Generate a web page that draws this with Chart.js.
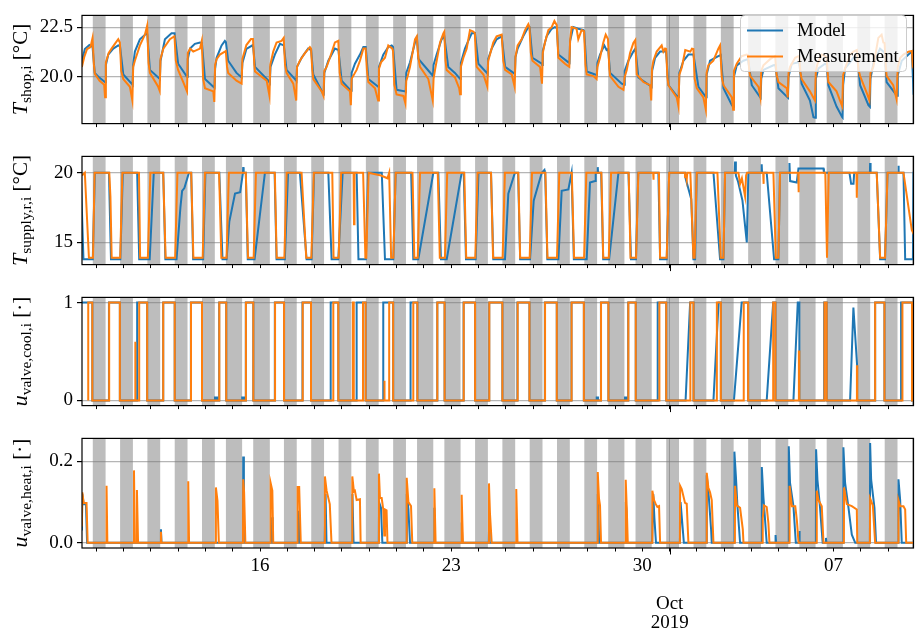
<!DOCTYPE html>
<html>
<head>
<meta charset="utf-8">
<script src="https://cdn.jsdelivr.net/npm/chart.js@4.4.1/dist/chart.umd.min.js"></script>
<style>
  body { margin: 0; background: #fff; }
  #wrap { position: relative; width: 915px; height: 632px; }
  canvas { position: absolute; left: 0; }
</style>
</head>
<body>
<div id="wrap">
  <canvas id="c1" width="915" height="139" style="top:0px"></canvas>
  <canvas id="c2" width="915" height="139" style="top:141px"></canvas>
  <canvas id="c3" width="915" height="139" style="top:282px"></canvas>
  <canvas id="c4" width="915" height="209" style="top:423px"></canvas>
</div>
<script>
// x values are "day of September + hour/24" (Oct 1 = 31)
const xMin = 9.48, xMax = 39.93;
const dayTicks = [10,11,12,13,14,15,16,17,18,19,20,21,22,23,24,25,26,27,28,29,30,31,32,33,34,35,36,37,38,39];
const labelDays = [16, 23, 30, 37];
const labelText = ['16', '23', '30', '07'];
const monthTick = 31;
const monthText = ['Oct', '2019'];

// shop closed periods: from closeHour on that day until openHour next morning
const bandDays  = [9,10,11,12,13,14,15,16,17,18,19,20,21,22,23,24,25,26,27,28,29,30,31,32,33,34,35,36,37,38,39];
const closeHour = [21,21,21,21,21,18,18,21,21,21,21,21,18,18,21,21,21,21,21,18,18,21,21,21,21,21,18,18,21,21,21];
const openHour  = [8.25,8.25,8.25,8.25,8.25,8.25,8.6,8.25,8.25,8.25,8.25,8.25,8.25,8.25,8.25,8.25,8.25,8.25,8.25,8.25,8.25,8.25,8.25,8.25,8.25,8.25,8.25,8.25,8.25,8.25,8.25];

// [day, hour, value]
const shopMeas = [
 [9,11.4,20.5],[9,13.5,21.0],[9,16,21.4],[9,19,21.5],[9,20.8,21.96],[9,22,20.6],[9,22.8,20.15],
 [10,3,19.8],[10,7,19.6],[10,7.8,18.97],[10,8.5,20.73],[10,11,21.2],[10,13.5,21.42],[10,16.4,21.66],[10,19.4,21.89],[10,20.8,21.73],[10,22,20.3],[10,23.8,19.89],
 [11,5.6,19.5],[11,7.8,18.81],[11,8.5,20.5],[11,10,20.81],[11,14.4,21.58],[11,18.8,22.12],[11,20.8,22.58],[11,22,20.7],[11,23.2,20.2],
 [12,6.5,19.5],[12,7.8,19.3],[12,8.5,20.9],[12,11,21.42],[12,16.8,21.89],[12,20.8,22.04],[12,22,20.8],
 [13,0,20.35],[13,4.5,19.74],[13,7.8,19.27],[13,8.5,21.2],[13,10.5,21.42],[13,13.3,21.27],[13,19.2,21.42],[13,20.8,21.81],[13,22,19.9],[13,23.6,19.43],
 [14,6.9,19.27],[14,7.8,18.74],[14,8.5,20.6],[14,9.8,20.89],[14,12.7,21.12],[14,17.1,21.27],[14,17.9,21.3],[14,19,20.5],[14,20,20.2],
 [15,3.3,19.81],[15,7.8,19.66],[15,8.5,20.9],[15,12,21.6],[15,16,21.9],[15,17.8,21.9],[15,19,20.6],[15,19.6,20.27],
 [16,5.8,19.81],[16,8.3,19.04],[16,9,20.6],[16,11.6,21.27],[16,14.5,21.73],[16,18.9,21.81],[16,20.8,21.96],[16,22,20.6],[16,23.3,20.2],
 [17,5.2,19.66],[17,7.8,18.81],[17,8.5,20.5],[17,11,20.81],[17,15.4,21.19],[17,19.8,21.5],[17,20.8,21.42],[17,22,20.3],[17,22.8,19.89],
 [18,6.2,19.27],[18,7.8,19.04],[18,8.5,20.3],[18,10.5,20.5],[18,13.4,20.96],[18,17.8,21.73],[18,20.8,21.81],[18,22,20.2],[18,23.7,19.66],
 [19,7,19.27],[19,7.8,18.58],[19,8.5,19.9],[19,11.4,20.2],[19,12.9,20.35],[19,15.8,20.81],[19,18.8,21.42],[19,20.8,21.42],[19,22,20.3],[19,23.2,19.74],
 [20,5,19.43],[20,7.8,18.81],[20,8.5,20.4],[20,10.3,20.73],[20,13.8,20.96],[20,16.7,21.58],[20,20.3,21.42],[20,20.9,21.3],[20,22,19.6],
 [21,0,19.12],[21,6,19.04],[21,7.8,18.66],[21,8.5,19.8],[21,9.8,20.04],[21,11.8,20.5],[21,16.2,21.89],[21,17.8,22.04],[21,19,21.0],[21,20.6,20.5],
 [22,3.9,19.89],[22,7.8,18.81],[22,8.5,19.9],[22,9.8,20.35],[22,14.2,21.73],[22,17.1,22.19],[22,17.9,22.27],[22,19,20.8],[22,20,20.35],
 [23,3.3,19.97],[23,7,19.43],[23,7.8,19.12],[23,8.5,20.5],[23,10.7,20.96],[23,13.6,21.42],[23,16.5,22.35],[23,19.4,22.27],[23,20.8,22.2],[23,21.8,20.9],[23,22.4,20.5],
 [24,4.3,20.12],[24,7.8,19.5],[24,8.5,20.8],[24,10.1,21.12],[24,13,21.73],[24,15.9,22.04],[24,20.4,22.12],[24,21.8,20.8],[24,23.4,20.35],
 [25,5.2,20.12],[25,7.8,19.5],[25,8.5,21.0],[25,10.4,21.58],[25,13.9,21.89],[25,16.9,22.35],[25,19.8,22.65],[25,20.8,22.5],[25,22,21.2],[25,23.4,20.81],
 [26,6.1,20.5],[26,7.8,19.66],[26,8.5,21.2],[26,10.4,21.73],[26,13.4,22.35],[26,16.3,22.5],[26,18.7,22.81],[26,20.8,22.6],[26,21.8,21.4],[26,22.2,20.96],
 [27,4,20.66],[27,7.8,20.5],[27,8.5,21.8],[27,9.8,22.5],[27,14.2,22.42],[27,15.7,21.89],[27,18.6,22.35],[27,20.8,22.3],[27,22,20.6],[27,23.1,20.12],
 [28,5,20.04],[28,7.8,19.89],[28,8.5,20.5],[28,10.8,20.96],[28,13.7,21.73],[28,15.8,22.12],[28,17.8,21.9],[28,19,20.4],[28,19.7,20.04],
 [29,3,19.5],[29,7.4,19.35],[29,8.5,20.0],[29,10.3,20.35],[29,13.2,21.2],[29,16.1,21.7],[29,17.8,21.85],[29,19.1,20.12],
 [30,0.9,19.74],[30,6.8,19.58],[30,7.8,18.81],[30,8.5,20.4],[30,9.7,20.81],[30,12.6,21.27],[30,17,21.58],[30,18.5,21.27],[30,20,21.42],[30,20.9,21.4],[30,22,20.0],[30,22.9,19.58],
 [31,6.2,18.97],[31,7.8,18.51],[31,8.5,20.1],[31,10.8,20.5],[31,13.7,21.35],[31,18.2,21.27],[31,19.6,21.42],[31,20.9,21.4],[31,22,19.9],[31,23.8,19.43],
 [32,5.6,18.97],[32,7.8,18.35],[32,8.5,20.2],[32,10,20.58],[32,14.4,20.81],[32,18.8,21.42],[32,20.3,21.58],[32,21.8,20.0],[32,23.3,19.58],
 [33,6.7,18.97],[33,7.8,18.35],[33,8.5,20.3],[33,11,20.66],[33,15.3,21.04],[33,19.7,21.12],[33,20.9,21.1],[33,22,20.3],[33,22.8,20.04],
 [34,6.1,19.5],[34,7.8,18.97],[34,8.5,20.3],[34,10.4,20.58],[34,16.3,20.89],[34,20.7,21.04],[34,22,20.1],[34,23.6,19.74],
 [35,7,19.43],[35,7.8,18.97],[35,8.5,20.2],[35,9.8,20.5],[35,14.3,20.96],[35,17.2,21.04],[35,17.9,21.0],[35,19,20.2],[35,20,19.89],
 [36,3.3,19.27],[36,7.7,18.81],[36,8.5,20.3],[36,9.9,20.66],[36,13.7,21.12],[36,16.6,21.04],[36,17.9,21.0],[36,19,20.1],[36,19.5,19.74],
 [37,2.7,19.27],[37,7.7,18.51],[37,8.5,20.1],[37,10.2,20.43],[37,14.7,21.12],[37,17.6,21.27],[37,20.5,21.35],[37,21.8,20.4],[37,23.4,20.04],
 [38,5.2,19.2],[38,7.6,18.81],[38,8.5,20.2],[38,11,20.5],[38,15.4,21.96],[38,18.3,22.12],[38,19.8,21.73],[38,20.9,21.7],[38,22,20.5],[38,22.7,20.04],
 [39,4.5,19.58],[39,7.4,18.89],[39,8.5,20.5],[39,10.6,20.96],[39,13.5,21.12],[39,17.9,21.27],[39,20.9,21.3],[39,21.6,20.6],[39,23,20.8]
];

const shopModel = [
 [9,11.4,20.75],[9,14,21.4],[9,18,21.6],[9,20.8,21.5],[9,22.7,20.2],[10,3,19.95],[10,7.9,19.73],
 [10,8.5,20.6],[10,10.6,21.12],[10,15,21.42],[10,19.4,21.58],[10,20.9,21.55],[10,23.8,20.12],[11,7.1,19.66],[11,8,19.6],
 [11,8.5,20.6],[11,10,21.27],[11,14.4,21.89],[11,20.3,22.19],[11,20.9,22.15],[11,23.2,20.35],[12,8,19.89],
 [12,8.5,20.8],[12,12.4,21.89],[12,18.2,22.19],[12,20.9,22.19],[13,0,20.66],[13,7.4,20.04],[13,8,20.0],
 [13,8.5,20.9],[13,10.5,21.42],[13,14.7,21.66],[13,19.2,21.73],[13,20.9,21.7],[13,23.6,19.89],[14,6.9,19.5],[14,8,19.45],
 [14,8.5,20.4],[14,9.8,20.96],[14,14.2,21.58],[14,17.1,21.81],[14,18,21.75],[14,20,20.81],[15,3.3,20.2],[15,7.8,19.97],
 [15,8.5,20.7],[15,12,21.4],[15,17.8,21.6],[15,19.6,20.5],[16,7.3,19.81],[16,8.6,19.7],
 [16,9.2,20.5],[16,13,21.12],[16,17.5,21.66],[16,20.9,21.58],[16,23.3,20.35],[17,6.7,19.89],[17,8,19.8],
 [17,8.5,20.5],[17,12.5,20.96],[17,18.3,21.42],[17,20.9,21.35],[17,22.8,20.12],[18,7,19.2],[18,8,19.15],
 [18,8.5,20.2],[18,12,20.81],[18,17.8,21.42],[18,20.9,21.35],[18,23.7,19.81],[19,7,19.35],[19,8,19.3],
 [19,8.5,20.2],[19,11.4,20.66],[19,15.8,21.12],[19,18.8,21.5],[19,20.9,21.5],[19,23.2,19.89],[20,7.9,19.5],
 [20,8.5,20.5],[20,12.3,21.12],[20,16.7,21.5],[20,19.7,21.58],[20,20.9,21.5],[21,0,19.35],[21,7.4,19.27],[21,8,19.25],
 [21,8.5,20.2],[21,11.8,20.73],[21,16.2,21.73],[21,17.9,21.96],[21,19.2,20.9],[22,6.9,20.12],[22,8,20.05],
 [22,8.5,20.6],[22,11.2,21.12],[22,15.6,21.89],[22,17.9,22.04],[22,21.4,20.5],[23,3.3,20.2],[23,8,19.89],
 [23,8.5,20.7],[23,12.1,21.42],[23,15,21.81],[23,18,22.19],[23,20.9,22.2],[23,23.9,20.66],[24,7.3,20.2],[24,8,20.15],
 [24,8.5,20.9],[24,11.6,21.42],[24,15.9,21.89],[24,20.4,22.04],[24,23.4,20.5],[25,6.7,20.2],[25,8,20.15],
 [25,8.5,21.0],[25,10.4,21.42],[25,15.3,22.04],[25,19.8,22.5],[25,20.9,22.5],[25,23.4,20.96],[26,7.6,20.66],[26,8,20.6],
 [26,8.5,21.3],[26,11.9,22.04],[26,16.3,22.42],[26,19.2,22.5],[26,20.9,22.45],[26,22.2,21.12],[27,7,20.73],[27,8,20.7],
 [27,8.5,21.8],[27,11.3,22.5],[27,15.7,22.42],[27,20.3,22.35],[27,20.9,22.3],[27,23.1,20.27],[28,6.5,20.12],[28,8,20.1],
 [28,8.5,20.7],[28,10.8,21.12],[28,14.6,21.58],[28,16.6,21.35],[28,17.9,21.4],[28,19.7,20.2],[29,5.9,19.66],[29,8,19.6],
 [29,8.5,20.3],[29,11.7,20.81],[29,16.1,21.27],[29,17.9,21.42],[29,20.5,19.97],[30,8.2,19.5],
 [30,8.6,20.3],[30,11.2,20.96],[30,15.6,21.27],[30,20.9,21.27],[30,22.9,19.58],[31,6.2,19.04],[31,8,19.0],
 [31,8.5,20.2],[31,12.1,20.81],[31,16.5,21.12],[31,20.9,21.12],[32,1.3,19.5],[32,8,18.97],
 [32,8.5,20.1],[32,11.5,20.81],[32,18.8,21.04],[32,20.9,21.1],[32,23.3,19.43],[33,6.7,18.58],[33,8,18.5],
 [33,8.5,20.0],[33,11,20.58],[33,16.8,20.81],[33,20.9,20.89],[34,0.2,19.58],[34,7.6,18.97],[34,8,18.95],
 [34,8.5,19.9],[34,10.4,20.35],[34,19.2,20.58],[34,20.9,20.6],[34,23.6,19.43],[35,7.6,18.97],[35,8,18.95],
 [35,8.5,20.0],[35,11.3,20.66],[35,17.2,20.73],[35,17.9,20.7],[35,20,19.66],[36,3.3,18.81],[36,6.4,17.97],[36,8,17.95],
 [36,8.5,19.9],[36,10.8,20.43],[36,16.6,20.66],[36,17.9,20.65],[36,19.5,19.58],[37,2.7,18.51],[37,7.7,17.97],[37,8,17.95],
 [37,8.5,19.6],[37,10.2,20.43],[37,17.6,20.96],[37,20.9,21.0],[37,23.4,19.58],[38,6.7,18.58],[38,8,18.5],
 [38,8.5,19.9],[38,11,20.66],[38,16.9,21.42],[38,19.8,21.27],[38,20.9,21.25],[38,22.7,19.74],[39,6.8,19.12],[39,8,19.05],
 [39,8.5,20.1],[39,12,20.81],[39,17.9,21.12],[39,20.9,21.27],[39,22.4,19.1],[39,23,19.0]
];

// supply temperature: [day, dropStart, lowReached, riseStart, highReached] (hours, may pass 24)
const supplyHigh = 20.0, supplyLowMeas = 13.9, supplyLowModel = 13.8;
const supplyMeasSteps = [
 [9,14.0,17.6,21.2,22.6],[10,11.5,13.6,21.1,23.0],[11,13.6,14.6,21.4,23.6],[12,10.9,13.0,21.4,23.4],[13,11.5,13.4,21.6,23.6],
 [14,12.0,14.0,18.6,20.6],[15,11.5,13.4,18.4,20.4],[16,13.0,14.6,21.4,23.4],[17,12.5,16.6,21.1,23.3],[18,15.5,16.6,21.1,23.3],
 [19,18.6,20.6,21.4,23.4],[20,17.5,19.2,21.2,23.2],[21,14.0,15.6,18.6,20.6],[22,12.2,14.0,18.5,20.5],[23,11.5,13.2,21.2,23.2],
 [24,11.0,12.8,21.2,23.2],[25,11.0,12.6,21.0,23.0],[26,10.8,12.6,21.0,23.0],[27,10.0,12.0,20.8,22.8],[28,12.0,13.6,18.5,20.5],
 [29,12.0,13.6,18.5,20.5],[30,14.6,15.6,21.4,23.6],[31,18.2,20.9,22.0,23.8],[32,18.0,20.9,23.3,24.7],[34,19.2,21.3,23.6,25.0],
 [36,16.8,18.3,18.5,19.8],[38,14.0,17.0,21.3,23.5]
];
const supplyMeasExtra = [
 [9,11.4,19.8],[10,12.5,18.3],[19,10.2,20],[19,10.6,16.3],[19,11.0,20],[20,10.3,19.8],[20,16.0,19.6],
 [30,9.5,20],[30,9.7,19.5],[30,10.0,20],[31,13.4,20],[31,13.6,19.7],[31,14.2,19.9],[31,15.0,19.5],[31,15.5,20],
 [33,12.5,20],[33,13.9,19.2],[33,15.5,19.6],[33,18.3,18.3],[33,19.2,19.8],[33,20.0,20],
 [34,10.2,20],[34,10.4,19.2],[34,10.8,20],[35,17.0,20],[35,17.2,18.6],[35,17.6,20],
 [37,20.2,20],[37,20.5,18.2],[37,20.9,20],[39,13.5,20],[39,20.8,15.9],[39,23.0,15.5]
];
const supplyModelSteps = [
 [9,10.4,12.8,21.0,22.8],[10,11.2,13.0,21.2,23.4],[11,12.0,13.8,23.0,26.6],[12,10.9,12.8,22.6,33.5],[13,11.5,13.2,22.0,24.0],
 [14,12.2,15.0,18.6,33.0],[15,11.5,13.2,19.2,28.3],[16,12.8,14.5,21.8,24.6],[17,11.0,16.9,21.3,23.5],[18,12.0,14.9,20.8,24.6],
 [19,12.9,14.5,21.0,23.0],[20,11.0,13.8,21.1,23.2],[21,12.8,14.7,19.1,32.3],[22,12.7,15.0,20.1,33.2],[23,11.0,13.0,21.5,24.0],
 [24,11.0,13.0,23.3,32.0],[25,10.8,12.6,21.3,31.6],[26,10.6,12.5,22.2,33.9],[27,9.8,11.8,23.1,31.0],[28,11.8,13.6,18.8,27.0],
 [29,11.8,14.0,18.4,20.4],[30,14.1,15.6,21.4,23.6],[31,13.6,20.9,22.4,23.8],[32,14.5,20.3,23.3,24.7],[34,13.3,19.8,23.6,25.0],
 [38,14.0,17.0,21.3,23.5],[39,13.5,15.0,21.8,22.3]
];
const supplyModelExtra = [
 [12,26.0,17.5],[12,27.5,18.7],[12,29.5,18.9],[14,21.0,16.5],[14,26.0,18.5],[14,30.5,18.6],[15,9.2,20.4],[15,9.6,20.0],
 [24,26.2,18.5],[25,24.5,18.0],[26,9.9,20.2],[26,10.2,20.0],[26,25.1,18.7],[26,31.0,18.8],
 [27,26.0,19.3],[27,30.4,19.4],[28,8.6,20.0],[28,8.8,20.4],[28,9.1,20.0],[31,14.0,19.6],[31,19.0,18.1],
 [33,9.2,20.0],[33,9.5,20.8],[33,10.2,19.8],[33,12.0,19.4],[33,16.0,18.0],[33,19.8,15.0],[33,21.2,20.0],
 [34,8.7,20],[34,8.9,20.6],[34,9.2,20],[35,9.0,20],[35,9.3,20.7],[35,9.9,19.4],[35,15.7,19.3],[35,17.2,20.3],[36,15.2,20.3],[36,15.6,20.0],
 [37,14.0,20],[37,15.5,19.2],[37,17.6,19.2],[37,18.2,20],[38,8.0,20],[38,8.2,20.7],[38,8.6,20],[39,8.9,20],[39,9.1,20.5],[39,9.4,20],[39,23.0,20.0]
];

// cooling valve: [day, rampStart, rampEnd, off, level, levelAtOff]
const coolMeas = [
 [9,17.0,17.0,20.6,1],[10,11.4,11.4,20.8,1],[11,10.2,10.2,10.5,0.6],[11,13.8,13.8,20.8,1],[12,10.9,10.9,21.0,1],[13,11.3,11.3,21.0,1],
 [14,12.2,12.2,18.3,1],[15,11.6,11.6,18.1,1],[16,13.2,13.2,21.1,1],[17,13.5,13.5,20.8,1],[18,16.4,16.4,20.8,1],[19,9.6,9.6,10.4,1],
 [19,18.5,18.5,20.8,1],[20,13.0,13.0,13.6,0.2],[20,17.5,17.5,21.0,1],[21,14.7,14.7,18.3,1],[22,11.8,11.8,18.2,1],[23,11.0,11.0,21.0,1],
 [24,9.5,9.5,21.0,1],[25,10.4,10.4,20.8,1],[26,10.5,10.5,20.8,1],[27,9.8,9.8,20.6,1],[28,11.7,11.7,18.2,1],[29,11.7,11.7,18.2,1],
 [30,15.0,15.0,21.0,1],[31,18.2,18.2,21.0,1],[32,17.5,17.5,21.0,1],[33,16.8,16.8,17.1,0.15],[33,17.3,17.3,21.0,1],[34,19.0,19.0,21.0,1],
 [35,17.6,17.6,18.0,0.5],[36,16.1,16.1,18.0,1],[37,20.6,20.6,20.9,0.35],[38,12.6,12.6,20.8,1],[39,12.6,12.6,21.0,1],[39,23,23,23,0]
];
const coolModel = [
 [9,11.4,11.4,20.6,1],[10,11.2,11.2,20.8,1],[11,12.0,12.0,20.8,1],[12,10.9,10.9,21.0,1],[13,11.2,11.2,21.0,1],[14,8.4,8.4,10.2,0.03],
 [14,12.1,12.1,18.3,1],[15,8.3,8.3,9.8,0.03],[15,11.5,11.5,18.1,1],[16,13.0,13.0,21.1,1],[17,13.3,13.3,20.8,1],[18,14.1,14.1,20.8,1],
 [19,12.9,12.9,20.8,1],[20,12.3,12.3,21.0,1],[21,12.3,12.3,18.3,1],[22,11.8,11.8,18.2,1],[23,10.9,10.9,21.0,1],[24,9.4,9.4,21.0,1],
 [25,10.2,10.2,20.8,1],[26,10.3,10.3,20.8,1],[27,9.6,9.7,20.6,1],[28,7.9,7.9,9.0,0.03],[28,11.6,11.6,18.2,1],[29,8.8,8.8,9.8,0.03],
 [29,11.6,11.6,18.2,1],[30,13.5,13.5,21.0,1],[31,14.0,18.0,21.0,1],[32,14.5,19.0,21.0,1],[33,8.5,15.3,21.0,1],[34,13.3,19.0,21.0,1],
 [35,12.8,16.6,18.0,1],[36,15.8,15.8,18.0,1],[37,14.6,17.5,20.8,0.95,0.35],[38,12.6,12.6,20.8,1],[39,11.4,11.4,21.0,1],[39,23,23,23,0]
];

// heating valve: [day, hour, value]
const heatMeas = [
 [9,11.4,0.04],[9,11.8,0.124],[9,13.0,0.098],[9,15.5,0.098],[9,16.5,0],
 [10,8.8,0],[10,9.1,0.14],[10,9.8,0],
 [11,8.9,0],[11,9.2,0.178],[11,10.0,0],[11,11.4,0],[11,11.8,0.13],[11,12.8,0],
 [12,8.7,0],[12,8.9,0.027],[12,9.3,0],[13,8.7,0],[13,8.9,0.151],[13,9.6,0],
 [14,9.0,0],[14,9.2,0.136],[14,10.6,0.103],[14,11.8,0],[15,9.0,0],[15,9.2,0.156],[15,10.0,0.124],[15,11.1,0],
 [16,9.1,0],[16,9.3,0.147],[16,10.8,0.128],[16,11.6,0],[17,8.8,0],[17,9.0,0.137],[17,10.4,0.137],[17,11.8,0],
 [18,8.8,0],[18,9.0,0.163],[18,10.5,0.128],[18,13.3,0.095],[18,14.8,0],
 [19,8.9,0],[19,9.1,0.163],[19,10.5,0.126],[19,11.4,0.128],[19,12.9,0.105],[19,15.8,0.107],[19,16.4,0],
 [20,8.3,0],[20,8.5,0.17],[20,9.4,0.11],[20,10.9,0.11],[20,12.3,0.082],[20,13.2,0.018],[20,13.8,0.082],[20,15.2,0.08],[20,16.0,0],
 [21,8.7,0],[21,8.9,0.16],[21,10.4,0.1],[21,12.7,0.09],[21,13.8,0],[22,9.0,0],[22,9.2,0.134],[22,10.3,0],
 [23,9.0,0],[23,9.2,0.118],[23,10.3,0],[24,9.0,0],[24,9.2,0.146],[24,10.1,0.071],[24,11.6,0],[25,9.0,0],[25,9.2,0.132],[25,10.3,0],
 [28,8.6,0],[28,8.8,0.174],[28,9.9,0.109],[28,10.8,0.092],[28,11.7,0],[29,9.2,0],[29,9.4,0.155],[29,10.3,0.086],[29,11.2,0],
 [30,8.6,0],[30,8.8,0.128],[30,10.3,0.105],[30,11.8,0.095],[30,13.2,0.088],[30,14.7,0.09],[30,15.6,0],
 [31,9.0,0],[31,9.2,0.14],[31,10.6,0.132],[31,13.5,0.098],[31,15.0,0.096],[31,16.5,0],
 [32,8.4,0],[32,8.6,0.172],[32,10.0,0.136],[32,11.5,0.124],[32,13.0,0.105],[32,14.5,0],
 [33,9.3,0],[33,9.5,0.14],[33,11.0,0.092],[33,13.9,0.086],[33,16.3,0.033],[33,16.9,0],
 [34,9.6,0],[34,9.8,0.06],[34,11.0,0.092],[34,13.3,0.088],[34,14.8,0.048],[34,15.7,0],
 [35,9.2,0],[35,9.4,0.14],[35,11.4,0.09],[35,14.4,0.09],[35,15.8,0.056],[35,17.3,0],
 [36,9.1,0],[36,9.3,0.128],[36,10.8,0.105],[36,13.7,0.09],[36,15.2,0],
 [37,9.1,0],[37,9.3,0.136],[37,11.7,0.095],[37,16.1,0.09],[37,20.5,0.082],[37,20.9,0],
 [38,8.0,0],[38,8.2,0.109],[38,10.6,0.092],[38,12.6,0],
 [39,8.9,0],[39,9.1,0.105],[39,10.6,0.09],[39,13.5,0.09],[39,15.0,0.082],[39,15.9,0],[39,23,0]
];
const heatModel = [
 [9,11.4,0.03],[9,11.8,0.12],[9,13.0,0.095],[9,15.0,0.095],[9,16.0,0],
 [12,8.7,0],[12,8.9,0.033],[12,9.4,0],[15,9.0,0],[15,9.2,0.212],[15,9.8,0],
 [16,10.4,0],[16,10.6,0.063],[16,11.0,0],[17,9.8,0],[17,10.1,0.079],[17,10.6,0],[18,8.8,0],[18,9.6,0.12],[18,10.4,0],
 [19,9.0,0],[19,9.2,0.12],[19,10.2,0],[20,8.4,0],[20,8.6,0.1],[20,10.3,0.086],[20,11.5,0],
 [21,8.8,0],[21,9.0,0.12],[21,10.4,0.083],[21,11.8,0],[22,9.0,0],[22,9.2,0.086],[22,9.8,0],
 [23,9.0,0],[23,9.3,0.05],[23,9.8,0],[24,9.0,0],[24,9.3,0.04],[24,9.8,0],
 [28,8.6,0],[28,8.9,0.12],[28,9.4,0.075],[28,10.0,0],[29,9.2,0],[29,9.5,0.1],[29,10.0,0.08],[29,10.6,0],
 [30,8.6,0],[30,9.6,0.12],[30,10.6,0.06],[30,12.0,0],[31,9.0,0],[31,9.6,0.1],[31,12.5,0],
 [32,8.4,0],[32,8.6,0.166],[32,10.3,0.117],[32,12.5,0.03],[32,13.0,0],
 [33,8.7,0],[33,8.9,0.224],[33,10.3,0.16],[33,11.5,0.094],[33,13.9,0],
 [34,8.8,0],[34,9.0,0.186],[34,10.4,0.113],[34,13.3,0],[34,21.0,0],[34,21.1,0.019],[34,21.6,0],
 [35,8.5,0],[35,8.7,0.237],[35,9.8,0.147],[35,12.8,0.09],[35,14.9,0],[35,17.9,0],[35,18.0,0.029],[35,18.4,0],
 [36,8.5,0],[36,8.7,0.23],[36,9.9,0.155],[36,12.2,0.086],[36,14.5,0],[36,17.3,0],[36,17.4,0.012],[36,17.8,0],
 [37,8.5,0],[37,8.7,0.235],[37,10.2,0.147],[37,13.2,0.086],[37,16.1,0.02],[37,19.1,0],
 [38,8.0,0],[38,8.2,0.245],[38,9.1,0.155],[38,12.0,0.086],[38,13.4,0],
 [39,8.9,0],[39,9.1,0.156],[39,10.6,0.105],[39,12.0,0],[39,23,0]
];

const shopTicks = [20, 22.5], shopTickLabels = ['20.0', '22.5'];
const supplyTicks = [15, 20], supplyTickLabels = ['15', '20'];
const coolTicks = [0, 1], coolTickLabels = ['0', '1'];
const heatTicks = [0, 0.2], heatTickLabels = ['0.0', '0.2'];

const FONT = '"Liberation Serif", "Times New Roman", serif';
const blue = '#1f77b4', orange = '#ff7f0e';
const gridColor = 'rgba(120,120,120,0.55)';
const bandColor = '#bdbdbd';

const at = (d, h) => d + h / 24;
const pts = rows => rows.map(r => ({x: at(r[0], r[1]), y: r[2]}));

function stepPts(rows, extra, low) {
  const out = [];
  rows.forEach(([d, a, b, c, e]) => out.push([d, a, supplyHigh], [d, b, low], [d, c, low], [d, e, supplyHigh]));
  return pts(out.concat(extra)).sort((p, q) => p.x - q.x);
}

function valvePts(rows) {
  const out = [];
  rows.forEach(([d, u0, u1, off, lv, lvEnd]) => {
    out.push({x: at(d, u0), y: 0}, {x: at(d, u1), y: lv},
             {x: at(d, off), y: lvEnd === undefined ? lv : lvEnd}, {x: at(d, off), y: 0});
  });
  return out;
}

Chart.defaults.font.family = FONT;
Chart.defaults.color = '#000';

const nightBands = {
  id: 'nightBands',
  beforeDraw(chart) {
    const {ctx, chartArea: a, scales: {x}} = chart;
    ctx.save();
    ctx.beginPath();
    ctx.rect(a.left, a.top, a.right - a.left, a.bottom - a.top);
    ctx.clip();
    ctx.fillStyle = bandColor;
    bandDays.forEach((d, i) => {
      const x0 = x.getPixelForValue(at(d, closeHour[i]));
      const x1 = x.getPixelForValue(at(d + 1, openHour[i]));
      ctx.fillRect(x0, a.top, x1 - x0, a.bottom - a.top);
    });
    ctx.restore();
  }
};

const frame = {
  id: 'frame',
  afterDraw(chart) {
    const {ctx, chartArea: a, scales: {x}} = chart;
    ctx.save();
    ctx.strokeStyle = '#000';
    ctx.lineWidth = 1.2;
    ctx.strokeRect(a.left, a.top, a.right - a.left, a.bottom - a.top);
    const px = Math.round(x.getPixelForValue(monthTick)) + 0.5;
    ctx.lineWidth = 1;
    ctx.beginPath();
    ctx.moveTo(px, a.bottom);
    ctx.lineTo(px, a.bottom + 6.5);
    ctx.stroke();
    ctx.restore();
  }
};

const yLabel = {
  id: 'yLabel',
  afterDraw(chart, args, o) {
    const {ctx, chartArea: a} = chart;
    ctx.save();
    ctx.translate(27, (a.top + a.bottom) / 2);
    ctx.rotate(-Math.PI / 2);
    ctx.fillStyle = '#000';
    ctx.textBaseline = 'alphabetic';
    const fMain = 'italic 22px ' + FONT, fSub = '15.5px ' + FONT, fUnit = '21px ' + FONT;
    ctx.font = fMain; const w1 = ctx.measureText(o.sym).width;
    ctx.font = fSub; const w2 = ctx.measureText(o.sub).width;
    ctx.font = fUnit; const w3 = ctx.measureText(o.unit).width;
    let x0 = -(w1 + w2 + w3) / 2;
    ctx.font = fMain; ctx.fillText(o.sym, x0, 0); x0 += w1;
    ctx.font = fSub; ctx.fillText(o.sub, x0, 4); x0 += w2;
    ctx.font = fUnit; ctx.fillText(o.unit, x0, 0);
    ctx.restore();
  }
};

const legendBox = {
  id: 'legendBox',
  afterDraw(chart) {
    const {ctx} = chart;
    ctx.save();
    ctx.fillStyle = 'rgba(255,255,255,0.8)';
    ctx.strokeStyle = '#cccccc';
    ctx.lineWidth = 1;
    ctx.beginPath();
    ctx.roundRect(740.5, 15.5, 166, 56, 4);
    ctx.fill();
    ctx.stroke();
    const items = chart.data.datasets;
    ctx.font = '18.7px ' + FONT;
    ctx.textBaseline = 'middle';
    items.forEach((ds, i) => {
      const y = 30.5 + i * 26;
      ctx.strokeStyle = ds.borderColor;
      ctx.lineWidth = 2;
      ctx.beginPath();
      ctx.moveTo(747, y);
      ctx.lineTo(783, y);
      ctx.stroke();
      ctx.fillStyle = '#000';
      ctx.fillText(ds.label, 797, y + 1);
    });
    ctx.restore();
  }
};

function xScale(showLabels) {
  return {
    type: 'linear', min: xMin, max: xMax,
    afterBuildTicks: s => { s.ticks = dayTicks.map(v => ({value: v})); },
    afterFit: s => { s.height = showLabels ? 84 : 14; },
    grid: {
      color: c => (c.tick && c.tick.value === monthTick) ? gridColor : 'rgba(0,0,0,0)',
      tickColor: '#000', tickLength: 3.5, lineWidth: 1
    },
    border: { display: false },
    ticks: {
      display: showLabels, autoSkip: false, maxRotation: 0, padding: 5, color: '#000',
      font: { size: 19, lineHeight: 1 },
      callback: v => {
        const i = labelDays.indexOf(v);
        if (i >= 0) return labelText[i];
        if (v === monthTick) return ['', ''].concat(monthText);
        return '';
      }
    }
  };
}

function yScale(min, max, ticks, labels) {
  return {
    min, max,
    afterBuildTicks: s => { s.ticks = ticks.map(v => ({value: v})); },
    afterFit: s => { s.width = 82; },
    grid: { color: gridColor, tickColor: '#000', tickLength: 5, lineWidth: 1.2 },
    border: { display: false },
    ticks: { padding: 4, color: '#000', font: { size: 19 }, callback: (v, i) => labels[i] }
  };
}

function series(label, data, color, order) {
  return { label, data, borderColor: color, backgroundColor: color, borderWidth: 2,
           pointRadius: 0, fill: false, tension: 0, order };
}

function panel(id, model, meas, y, showX, ylab, extra) {
  return new Chart(document.getElementById(id), {
    type: 'line',
    data: { datasets: [series('Model', model, blue, 2), series('Measurement', meas, orange, 1)] },
    options: {
      responsive: false, animation: false, devicePixelRatio: 1, events: [],
      layout: { padding: { top: 7, right: 1.5, left: 0, bottom: 0 } },
      plugins: { legend: { display: false }, tooltip: { enabled: false }, yLabel: ylab },
      scales: { x: xScale(showX), y }
    },
    plugins: [nightBands, yLabel, frame].concat(extra || [])
  });
}

panel('c1', pts(shopModel), pts(shopMeas), yScale(17.65, 23.09, shopTicks, shopTickLabels), false,
      { sym: 'T', sub: 'shop,i', unit: ' [°C]' }, [legendBox]);
panel('c2', stepPts(supplyModelSteps, supplyModelExtra, supplyLowModel), stepPts(supplyMeasSteps, supplyMeasExtra, supplyLowMeas),
      yScale(13.41, 21.17, supplyTicks, supplyTickLabels), false, { sym: 'T', sub: 'supply,r,i', unit: ' [°C]' });
panel('c3', valvePts(coolModel), valvePts(coolMeas), yScale(-0.053, 1.053, coolTicks, coolTickLabels), false,
      { sym: 'u', sub: 'valve,cool,i', unit: ' [·]' });
panel('c4', pts(heatModel), pts(heatMeas), yScale(-0.0128, 0.2566, heatTicks, heatTickLabels), true,
      { sym: 'u', sub: 'valve,heat,i', unit: ' [·]' });
</script>
</body>
</html>
